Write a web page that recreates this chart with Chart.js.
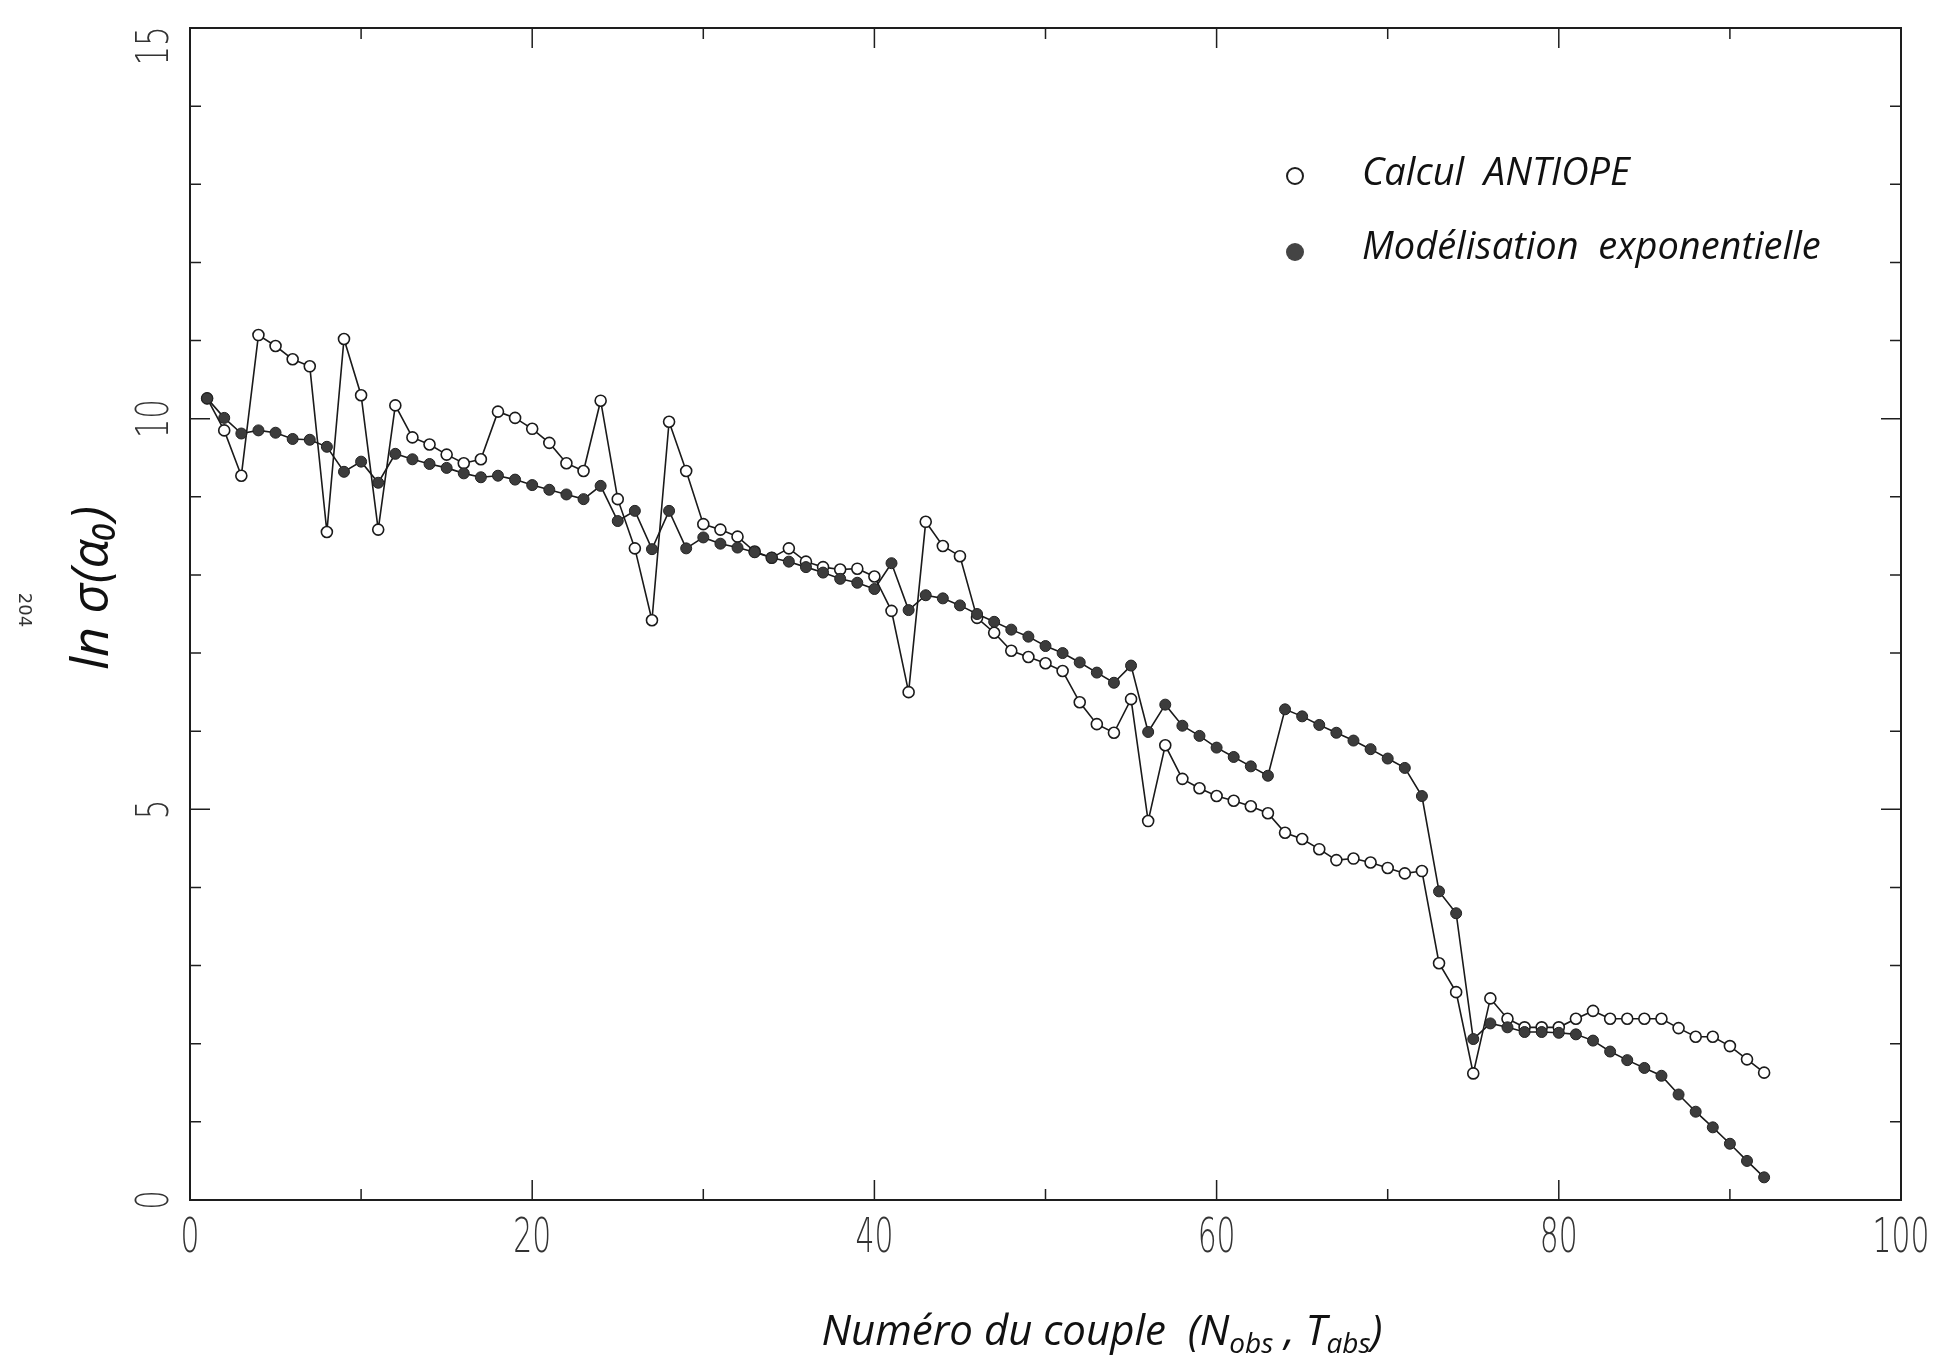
<!DOCTYPE html>
<html lang="fr">
<head>
<meta charset="UTF-8">
<title>ln sigma</title>
<script src="https://cdn.jsdelivr.net/npm/chart.js@4.4.1/dist/chart.umd.min.js"></script>
<style>
  html, body { margin: 0; padding: 0; background: #fff; }
  #wrap { width: 1952px; height: 1366px; }
</style>
</head>
<body>
<div id="wrap"><canvas id="chart" width="1952" height="1366"></canvas></div>
<script>
// numéro du couple (Nobs, Tabs)
const couples = [
  1, 2, 3, 4, 5, 6, 7, 8, 9, 10, 11, 12, 13, 14, 15, 16, 17, 18, 19, 20,
  21, 22, 23, 24, 25, 26, 27, 28, 29, 30, 31, 32, 33, 34, 35, 36, 37, 38, 39, 40,
  41, 42, 43, 44, 45, 46, 47, 48, 49, 50, 51, 52, 53, 54, 55, 56, 57, 58, 59, 60,
  61, 62, 63, 64, 65, 66, 67, 68, 69, 70, 71, 72, 73, 74, 75, 76, 77, 78, 79, 80,
  81, 82, 83, 84, 85, 86, 87, 88, 89, 90, 91, 92
];

// calcul ANTIOPE (cercles vides)
const antiope = [
  10.26, 9.85, 9.27, 11.07, 10.93, 10.76, 10.67, 8.55, 11.02, 10.30,
  8.58, 10.17, 9.76, 9.67, 9.54, 9.43, 9.48, 10.09, 10.01, 9.87,
  9.69, 9.43, 9.33, 10.23, 8.97, 8.34, 7.42, 9.96, 9.33, 8.65,
  8.58, 8.49, 8.30, 8.22, 8.34, 8.17, 8.10, 8.07, 8.08, 7.98,
  7.54, 6.50, 8.68, 8.37, 8.24, 7.45, 7.26, 7.03, 6.95, 6.87,
  6.77, 6.37, 6.09, 5.98, 6.41, 4.85, 5.82, 5.39, 5.27, 5.17,
  5.11, 5.04, 4.95, 4.70, 4.62, 4.49, 4.35, 4.37, 4.32, 4.25,
  4.18, 4.21, 3.03, 2.66, 1.62, 2.58, 2.32, 2.21, 2.21, 2.21,
  2.32, 2.42, 2.32, 2.32, 2.32, 2.32, 2.20, 2.09, 2.09, 1.97,
  1.80, 1.63
];

// modélisation exponentielle (cercles pleins)
const modele = [
  10.26, 10.01, 9.81, 9.85, 9.82, 9.74, 9.73, 9.64, 9.32, 9.45,
  9.18, 9.55, 9.48, 9.42, 9.37, 9.30, 9.25, 9.27, 9.22, 9.15,
  9.09, 9.03, 8.97, 9.14, 8.69, 8.82, 8.33, 8.82, 8.34, 8.48,
  8.40, 8.35, 8.29, 8.22, 8.17, 8.10, 8.03, 7.95, 7.90, 7.82,
  8.15, 7.55, 7.74, 7.70, 7.61, 7.50, 7.40, 7.30, 7.21, 7.09,
  7.00, 6.88, 6.75, 6.62, 6.84, 5.99, 6.34, 6.07, 5.94, 5.79,
  5.67, 5.55, 5.43, 6.28, 6.19, 6.08, 5.98, 5.88, 5.77, 5.65,
  5.53, 5.17, 3.95, 3.67, 2.06, 2.26, 2.21, 2.15, 2.15, 2.14,
  2.12, 2.04, 1.90, 1.79, 1.69, 1.59, 1.35, 1.13, 0.93, 0.72,
  0.50, 0.29
];

const xLabels = [0, 20, 40, 60, 80, 100];
const yLabels = [0, 5, 10, 15];

const hand = '"Open Sans", "Noto Sans", sans-serif';
const thin = '"Liberation Sans Narrow", "DejaVu Sans", sans-serif';

// cadre, graduations vers l'intérieur, textes
const decor = {
  id: 'decor',
  afterDraw(chart) {
    const { ctx, chartArea: a, scales: { x, y } } = chart;
    ctx.save();
    ctx.strokeStyle = '#1e1e1e';
    ctx.lineWidth = 2;
    ctx.strokeRect(a.left, a.top, a.right - a.left, a.bottom - a.top);

    ctx.lineWidth = 1.5;
    ctx.beginPath();
    x.ticks.forEach(t => {
      const px = x.getPixelForValue(t.value);
      const len = t.value % 20 === 0 ? 20 : 11;
      ctx.moveTo(px, a.bottom); ctx.lineTo(px, a.bottom - len);
      ctx.moveTo(px, a.top); ctx.lineTo(px, a.top + len);
    });
    y.ticks.forEach(t => {
      const py = y.getPixelForValue(t.value);
      const len = t.value % 5 === 0 ? 20 : 11;
      ctx.moveTo(a.left, py); ctx.lineTo(a.left + len, py);
      ctx.moveTo(a.right, py); ctx.lineTo(a.right - len, py);
    });
    ctx.stroke();

    // valeurs des axes
    ctx.fillStyle = '#333';
    ctx.textAlign = 'center';
    ctx.textBaseline = 'middle';
    ctx.font = '300 48px ' + thin;
    xLabels.forEach(v => {
      ctx.save();
      ctx.translate(x.getPixelForValue(v), a.bottom + 40);
      ctx.scale(0.62, 1);
      ctx.fillText(String(v), 0, 0);
      ctx.restore();
    });
    ctx.font = '300 44px ' + thin;
    yLabels.forEach(v => {
      ctx.save();
      ctx.translate(a.left - 33, Math.max(y.getPixelForValue(v), a.top + 18));
      ctx.rotate(-Math.PI / 2);
      ctx.scale(0.7, 1);
      ctx.fillText(String(v), 0, 0);
      ctx.restore();
    });

    // titre axe y
    ctx.fillStyle = '#111';
    ctx.save();
    ctx.translate(93, 588);
    ctx.rotate(-Math.PI / 2);
    ctx.font = 'italic 52px ' + hand;
    ctx.fillText('ln σ(α₀)', 0, 0);
    ctx.restore();

    // numéro de page
    ctx.save();
    ctx.translate(24, 610);
    ctx.rotate(Math.PI / 2);
    ctx.font = '18px ' + thin;
    ctx.fillStyle = '#333';
    ctx.fillText('204', 0, 0);
    ctx.restore();

    // titre axe x avec indices
    const big = 'italic 42px ' + hand;
    const small = 'italic 28px ' + hand;
    const parts = [
      ['Numéro du couple  (N', big, 0],
      ['obs', small, 12],
      [' , T', big, 0],
      ['abs', small, 12],
      [')', big, 0]
    ];
    let total = 0;
    parts.forEach(p => { ctx.font = p[1]; total += ctx.measureText(p[0]).width; });
    let cx = 1102 - total / 2;
    ctx.textAlign = 'left';
    parts.forEach(p => {
      ctx.font = p[1];
      ctx.fillText(p[0], cx, 1333 + p[2]);
      cx += ctx.measureText(p[0]).width;
    });

    // légende
    ctx.font = 'italic 38px ' + hand;
    ctx.lineWidth = 2;
    ctx.beginPath();
    ctx.arc(1295, 176, 8, 0, Math.PI * 2);
    ctx.fillStyle = '#fff';
    ctx.fill();
    ctx.stroke();
    ctx.fillStyle = '#111';
    ctx.fillText('Calcul  ANTIOPE', 1362, 174);
    ctx.beginPath();
    ctx.arc(1295, 252, 9, 0, Math.PI * 2);
    ctx.fillStyle = '#444';
    ctx.fill();
    ctx.fillStyle = '#111';
    ctx.fillText('Modélisation  exponentielle', 1362, 248);
    ctx.restore();
  }
};

const ctx = document.getElementById('chart').getContext('2d');
new Chart(ctx, {
  type: 'scatter',
  data: {
    datasets: [
      {
        label: 'Calcul ANTIOPE',
        data: couples.map((c, i) => ({ x: c, y: antiope[i] })),
        showLine: true,
        borderColor: '#1a1a1a',
        borderWidth: 1.6,
        pointRadius: 5.5,
        pointBorderWidth: 1.6,
        pointBackgroundColor: '#fff',
        pointBorderColor: '#1a1a1a',
        order: 1
      },
      {
        label: 'Modélisation exponentielle',
        data: couples.map((c, i) => ({ x: c, y: modele[i] })),
        showLine: true,
        borderColor: '#1a1a1a',
        borderWidth: 1.6,
        pointRadius: 5.5,
        pointBorderWidth: 1,
        pointBackgroundColor: '#3c3c3c',
        pointBorderColor: '#222',
        order: 0
      }
    ]
  },
  options: {
    responsive: false,
    animation: false,
    devicePixelRatio: 1,
    layout: { padding: { left: 190, right: 51, top: 28, bottom: 166 } },
    scales: {
      x: {
        type: 'linear', min: 0, max: 100,
        ticks: { stepSize: 10, display: false },
        grid: { display: false },
        border: { display: false },
        afterFit: s => { s.height = 0; }
      },
      y: {
        type: 'linear', min: 0, max: 15,
        ticks: { stepSize: 1, display: false },
        grid: { display: false },
        border: { display: false },
        afterFit: s => { s.width = 0; }
      }
    },
    plugins: {
      legend: { display: false },
      tooltip: { enabled: false }
    }
  },
  plugins: [decor]
});
</script>
</body>
</html>
